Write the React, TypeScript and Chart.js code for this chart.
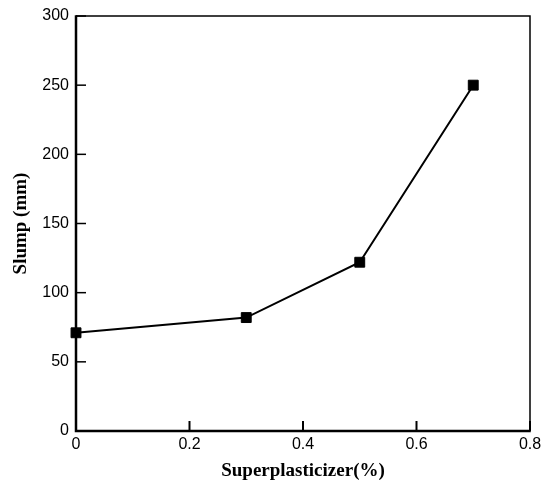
import React, { useEffect, useRef } from "react";
import { Chart, registerables } from "chart.js";

Chart.register(...registerables);

const superplasticizer = [0, 0.3, 0.5, 0.7];
const slump = [71, 82, 122, 250];
const xTicks = [0, 0.2, 0.4, 0.6, 0.8];
const yTicks = [0, 50, 100, 150, 200, 250, 300];

const framePlugin = {
  id: "frame",
  beforeDatasetsDraw(chart: any) {
    const { ctx, chartArea } = chart;
    const { left, right, top, bottom } = chartArea;
    const xs = chart.scales.x;
    const ys = chart.scales.y;
    ctx.save();
    ctx.strokeStyle = "#000";
    ctx.lineWidth = 1.5;
    ctx.beginPath();
    ctx.moveTo(left, top);
    ctx.lineTo(right, top);
    ctx.lineTo(right, bottom);
    ctx.stroke();
    ctx.lineWidth = 2.5;
    ctx.beginPath();
    ctx.moveTo(left, top - 0.75);
    ctx.lineTo(left, bottom);
    ctx.lineTo(right + 0.75, bottom);
    ctx.stroke();
    ctx.lineWidth = 2;
    xTicks.forEach((v) => {
      const px = xs.getPixelForValue(v);
      ctx.beginPath();
      ctx.moveTo(px, bottom);
      ctx.lineTo(px, bottom - 10);
      ctx.stroke();
    });
    ctx.lineWidth = 1.5;
    yTicks.forEach((v) => {
      const py = ys.getPixelForValue(v);
      ctx.beginPath();
      ctx.moveTo(left, py);
      ctx.lineTo(left + 10, py);
      ctx.stroke();
    });
    ctx.restore();
  },
};

export default function App() {
  const ref = useRef<HTMLCanvasElement | null>(null);
  useEffect(() => {
    document.body.style.margin = "0";
    const tickFont = { family: "'Liberation Sans', Arial, sans-serif", size: 16 };
    const titleFont = { family: "'Liberation Serif', 'Times New Roman', serif", size: 19, weight: "bold" as const, lineHeight: 1.2 };
    const chart = new Chart(ref.current as HTMLCanvasElement, {
      type: "line",
      data: {
        datasets: [
          {
            data: superplasticizer.map((x, i) => ({ x, y: slump[i] })),
            borderColor: "#000",
            backgroundColor: "#000",
            borderWidth: 2,
            pointStyle: "rect",
            pointRadius: 7,
            pointBorderWidth: 1,
            pointBackgroundColor: "#000",
            pointBorderColor: "#000",
            tension: 0,
            clip: false as any,
          },
        ],
      },
      options: {
        animation: false,
        responsive: false,
        devicePixelRatio: 1,
        layout: { padding: { top: 16, right: 12, left: 0, bottom: 0 } },
        plugins: { legend: { display: false }, tooltip: { enabled: false } },
        scales: {
          x: {
            type: "linear",
            min: 0,
            max: 0.8,
            afterBuildTicks: (s: any) => {
              s.ticks = xTicks.map((v) => ({ value: v }));
            },
            afterFit: (s: any) => {
              s.height = 51;
              s.paddingLeft = 0;
              s.paddingRight = 0;
            },
            grid: { display: false, drawTicks: false },
            border: { display: false },
            ticks: { color: "#000", font: tickFont, padding: 4, maxRotation: 0 },
            title: { display: true, text: "Superplasticizer(%)", color: "#000", font: titleFont, padding: { top: 0, bottom: 0 } },
          },
          y: {
            type: "linear",
            min: 0,
            max: 300,
            afterBuildTicks: (s: any) => {
              s.ticks = yTicks.map((v) => ({ value: v }));
            },
            afterFit: (s: any) => {
              s.width = 76;
              s.paddingTop = 0;
              s.paddingBottom = 0;
            },
            grid: { display: false, drawTicks: false },
            border: { display: false },
            ticks: { color: "#000", font: tickFont, padding: 7 },
            title: { display: true, text: "Slump (mm)", color: "#000", font: titleFont, padding: { top: 10, bottom: 0 } },
          },
        },
      },
      plugins: [framePlugin],
    });
    return () => chart.destroy();
  }, []);
  return <canvas ref={ref} width={542} height={482} style={{ display: "block" }} />;
}
